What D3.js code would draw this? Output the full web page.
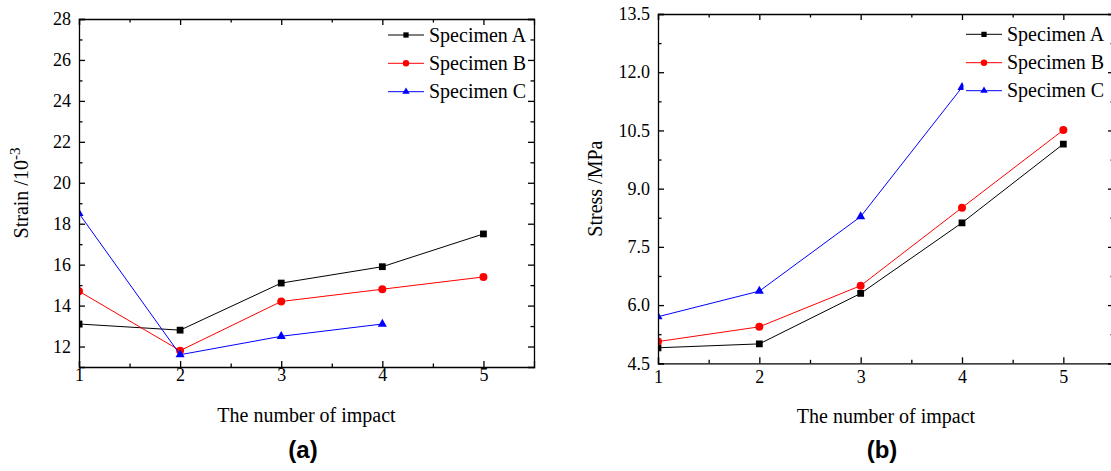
<!DOCTYPE html>
<html lang="en">
<head>
<meta charset="utf-8" />
<title>Strain and stress vs number of impact</title>
<script src="https://d3js.org/d3.v7.min.js"></script>
<style>
    body { margin: 0; background: #fff; }
    svg { display: block; }
    .axis path, .axis line { stroke: #000; stroke-width: 1.3; }
    .axis text { font-family: "Liberation Serif", "Times New Roman", serif; font-size: 18px; fill: #000; }
    .title { font-family: "Liberation Serif", "Times New Roman", serif; font-size: 20px; fill: #000; }
    .legend text { font-family: "Liberation Serif", "Times New Roman", serif; font-size: 20px; fill: #000; }
    .panel-label { font-family: "Liberation Sans", Arial, sans-serif; font-weight: bold; font-size: 24px; }
</style>
</head>
<body>
<svg width="1111" height="471"></svg>
<script>
    // data
    var impacts = [1, 2, 3, 4, 5];
    var specimens = ["Specimen A", "Specimen B", "Specimen C"];

    var strainA = [13.1, 12.8, 15.1, 15.9, 17.5];
    var strainB = [14.7, 11.8, 14.2, 14.8, 15.4];
    var strainC = [18.5, 11.6, 12.5, 13.1];

    var stressA = [4.9, 5.0, 6.3, 8.12, 10.15];
    var stressB = [5.06, 5.44, 6.5, 8.51, 10.51];
    var stressC = [5.7, 6.36, 8.28, 11.61];

    var xMajor = [1, 2, 3, 4, 5];
    var xMinor = [1.5, 2.5, 3.5, 4.5];
    var strainMajor = [12, 14, 16, 18, 20, 22, 24, 26, 28];
    var strainMinor = [13, 15, 17, 19, 21, 23, 25, 27];
    var stressMajor = [4.5, 6.0, 7.5, 9.0, 10.5, 12.0, 13.5];
    var stressMinor = [5.25, 6.75, 8.25, 9.75, 11.25, 12.75];

    var colors = ["#000000", "#ff0000", "#0000ff"];
    var symbols = [d3.symbolSquare, d3.symbolCircle, d3.symbolTriangle];
    var markSize = [46, 50, 36];
    var legendSize = [28, 32, 24];

    var svg = d3.select("svg");
    var defs = svg.append("defs");

    function drawPanel(p) {
        var x = d3.scaleLinear().domain([1, 5.5]).range([p.left, p.right]);
        var y = d3.scaleLinear().domain(p.yDomain).range([p.bottom, p.top]);
        var g = svg.append("g");

        defs.append("clipPath").attr("id", "clip-" + p.id)
            .append("rect")
            .attr("x", p.left).attr("y", p.top)
            .attr("width", p.right - p.left).attr("height", p.bottom - p.top);

        var plot = g.append("g").attr("clip-path", "url(#clip-" + p.id + ")");
        var line = d3.line()
            .x(function (d, i) { return x(impacts[i]); })
            .y(function (d) { return y(d); });

        p.series.forEach(function (vals, k) {
            plot.append("path")
                .datum(vals)
                .attr("d", line)
                .attr("fill", "none")
                .attr("stroke", colors[k])
                .attr("stroke-width", 1);
            plot.selectAll(null)
                .data(vals)
                .enter().append("path")
                .attr("transform", function (d, i) { return "translate(" + x(impacts[i]) + "," + y(d) + ")"; })
                .attr("d", d3.symbol().type(symbols[k]).size(markSize[k]))
                .attr("fill", colors[k]);
        });

        // legend (white box, no border)
        var lg = g.append("g").attr("class", "legend").attr("clip-path", "url(#clip-" + p.id + ")");
        lg.append("rect")
            .attr("x", p.legend.box[0]).attr("y", p.legend.box[1])
            .attr("width", p.legend.box[2]).attr("height", p.legend.box[3])
            .attr("fill", "#fff");
        specimens.forEach(function (name, k) {
            var ry = p.legend.rows[k];
            lg.append("line")
                .attr("x1", p.legend.x).attr("x2", p.legend.x + 36)
                .attr("y1", ry).attr("y2", ry)
                .attr("stroke", colors[k]).attr("stroke-width", 1);
            lg.append("path")
                .attr("transform", "translate(" + (p.legend.x + 18) + "," + ry + ")")
                .attr("d", d3.symbol().type(symbols[k]).size(legendSize[k]))
                .attr("fill", colors[k]);
            lg.append("text")
                .attr("x", p.legend.x + 41).attr("y", ry)
                .attr("dy", "0.33em")
                .text(name);
        });

        // axes, ticks pointing inward
        function addAxis(axis, tx, ty, keepDomain) {
            var a = g.append("g")
                .attr("class", "axis")
                .attr("transform", "translate(" + tx + "," + ty + ")")
                .call(axis);
            a.attr("font-family", null).attr("font-size", null);
            if (!keepDomain) a.select(".domain").remove();
            return a;
        }
        var blank = function () { return ""; };

        addAxis(d3.axisBottom(x).tickValues(xMinor).tickSizeOuter(0).tickSize(-3.5).tickFormat(blank), 0, p.bottom, false);
        addAxis(d3.axisTop(x).tickValues(xMinor).tickSizeOuter(0).tickSize(-3.5).tickFormat(blank), 0, p.top, false);
        addAxis(d3.axisLeft(y).tickValues(p.yMinor).tickSizeOuter(0).tickSize(-3.5).tickFormat(blank), p.left, 0, false);
        addAxis(d3.axisRight(y).tickValues(p.yMinor).tickSizeOuter(0).tickSize(-3.5).tickFormat(blank), p.right, 0, false);

        addAxis(d3.axisBottom(x).tickValues(xMajor).tickSizeOuter(0).tickSize(-6).tickPadding(p.xPad).tickFormat(d3.format("d")), 0, p.bottom, true);
        addAxis(d3.axisTop(x).tickValues(xMajor).tickSizeOuter(0).tickSize(-6).tickFormat(blank), 0, p.top, true);
        addAxis(d3.axisLeft(y).tickValues(p.yMajor).tickSizeOuter(0).tickSize(-6).tickPadding(8).tickFormat(p.yFormat), p.left, 0, true);
        addAxis(d3.axisRight(y).tickValues(p.yMajor).tickSizeOuter(0).tickSize(-6).tickFormat(blank), p.right, 0, true);

        // titles
        g.append("text")
            .attr("class", "title")
            .attr("x", (p.left + p.right) / 2).attr("y", p.xTitleY)
            .attr("text-anchor", "middle")
            .text("The number of impact");

        var yt = g.append("text")
            .attr("class", "title")
            .attr("text-anchor", "middle")
            .attr("transform", "translate(" + p.yTitleX + "," + ((p.top + p.bottom) / 2) + ") rotate(-90)");
        yt.append("tspan").text(p.yTitle);
        if (p.yTitleSup) {
            yt.append("tspan").attr("dy", -8).attr("font-size", "15px").text(p.yTitleSup);
        }

        g.append("text")
            .attr("class", "panel-label")
            .attr("x", p.labelX).attr("y", 458)
            .attr("text-anchor", "middle")
            .text(p.label);
    }

    drawPanel({
        id: "a",
        left: 79, right: 534, top: 19, bottom: 367,
        yDomain: [11, 28],
        yMajor: strainMajor, yMinor: strainMinor,
        yFormat: d3.format("d"),
        series: [strainA, strainB, strainC],
        xPad: 1.5, xTitleY: 422,
        yTitle: "Strain /10", yTitleSup: "-3", yTitleX: 28,
        label: "(a)", labelX: 303,
        legend: { x: 388, rows: [35, 63.3, 91.7], box: [385, 22, 150, 83] }
    });

    drawPanel({
        id: "b",
        left: 658, right: 1114, top: 14, bottom: 363.3,
        yDomain: [4.5, 13.5],
        yMajor: stressMajor, yMinor: stressMinor,
        yFormat: d3.format(".1f"),
        series: [stressA, stressB, stressC],
        xPad: 7, xTitleY: 423,
        yTitle: "Stress /MPa", yTitleSup: null, yTitleX: 602,
        label: "(b)", labelX: 882,
        legend: { x: 966, rows: [34.3, 62.7, 90.7], box: [963.5, 21, 150, 83] }
    });
</script>
</body>
</html>
